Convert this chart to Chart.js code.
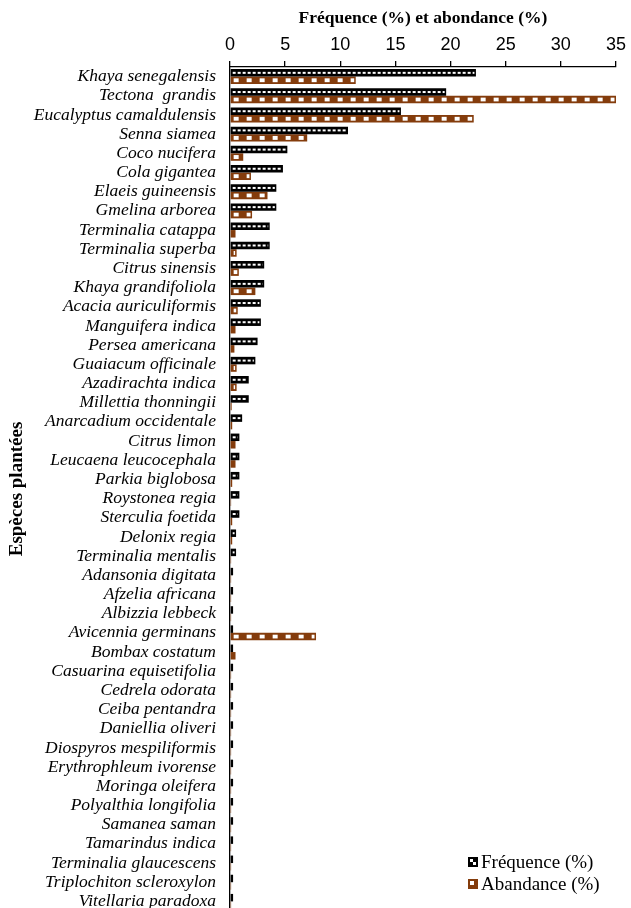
<!DOCTYPE html>
<html>
<head>
<meta charset="utf-8">
<script src="https://cdn.jsdelivr.net/npm/chart.js@4/dist/chart.umd.min.js"></script>
<style>
  html, body { margin: 0; padding: 0; background: #fff; overflow: hidden; }
  #wrap { position: relative; width: 631px; height: 911px; }
</style>
</head>
<body>
<div id="wrap"><canvas id="chart"></canvas></div>
<script>
// species surveyed, top to bottom
const species = [
  "Khaya senegalensis", "Tectona  grandis", "Eucalyptus camaldulensis", "Senna siamea",
  "Coco nucifera", "Cola gigantea", "Elaeis guineensis", "Gmelina arborea",
  "Terminalia catappa", "Terminalia superba", "Citrus sinensis", "Khaya grandifoliola",
  "Acacia auriculiformis", "Manguifera indica", "Persea americana", "Guaiacum officinale",
  "Azadirachta indica", "Millettia thonningii", "Anarcadium occidentale", "Citrus limon",
  "Leucaena leucocephala", "Parkia biglobosa", "Roystonea regia", "Sterculia foetida",
  "Delonix regia", "Terminalia mentalis", "Adansonia digitata", "Afzelia africana",
  "Albizzia lebbeck", "Avicennia germinans", "Bombax costatum", "Casuarina equisetifolia",
  "Cedrela odorata", "Ceiba pentandra", "Daniellia oliveri", "Diospyros mespiliformis",
  "Erythrophleum ivorense", "Moringa oleifera", "Polyalthia longifolia", "Samanea saman",
  "Tamarindus indica", "Terminalia glaucescens", "Triplochiton scleroxylon", "Vitellaria paradoxa"
];

// frequency (%)
const frequence = [
  22.3, 19.6, 15.5, 10.7,
  5.2, 4.8, 4.2, 4.2,
  3.6, 3.6, 3.1, 3.1,
  2.8, 2.8, 2.5, 2.3,
  1.7, 1.7, 1.1, 0.85,
  0.85, 0.85, 0.85, 0.85,
  0.55, 0.55, 0.28, 0.28,
  0.28, 0.28, 0.28, 0.28,
  0.28, 0.28, 0.28, 0.28,
  0.28, 0.28, 0.28, 0.28,
  0.28, 0.28, 0.28, 0.28
];

// abundance (%)
const abondance = [
  11.4, 35.0, 22.1, 7.0,
  1.2, 1.9, 3.4, 2.0,
  0.5, 0.6, 0.8, 2.3,
  0.7, 0.5, 0.4, 0.6,
  0.6, 0.15, 0.2, 0.5,
  0.5, 0.2, 0.1, 0.2,
  0.2, 0.1, 0.1, 0.1,
  0.1, 7.8, 0.5, 0.1,
  0.1, 0.1, 0.1, 0.1,
  0.1, 0.1, 0.1, 0.1,
  0.1, 0.1, 0.1, 0.1
];

const xTicks = [0, 5, 10, 15, 20, 25, 30, 35];

const BROWN = "#843C0C";
const serif = "'Liberation Serif', 'Times New Roman', serif";
const sans = "'Liberation Sans', Arial, sans-serif";

// white fill marks inside each bar (dash row / small squares)
const barMarks = {
  id: "barMarks",
  afterDatasetsDraw(chart) {
    const ctx = chart.ctx;
    ctx.save();
    ctx.fillStyle = "#fff";
    chart.data.datasets.forEach((ds, i) => {
      const meta = chart.getDatasetMeta(i);
      meta.data.forEach(bar => {
        const left = Math.min(bar.base, bar.x);
        const right = Math.max(bar.base, bar.x);
        const top = bar.y - bar.height / 2;
        ctx.save();
        ctx.beginPath();
        ctx.rect(left + 1.5, top + 1.5, right - left - 3, bar.height - 3);
        ctx.clip();
        if (i === 0) {
          const y = bar.y - 1;
          for (let x = left + 2; x < right - 1.5; x += 5) {
            ctx.fillRect(x, y, 3, 2);
          }
        } else {
          const y = bar.y - 2;
          for (let x = left + 3; x < right - 2; x += 13) {
            ctx.fillRect(x, y, 5, 4);
          }
        }
        ctx.restore();
      });
    });
    ctx.restore();
  }
};

// legend box inside the plot, lower right
const legendBox = {
  id: "legendBox",
  afterDraw(chart) {
    const ctx = chart.ctx;
    const items = [
      { label: "Fréquence (%)", color: "#000" },
      { label: "Abandance (%)", color: BROWN }
    ];
    ctx.save();
    ctx.font = "19px " + serif;
    ctx.textBaseline = "middle";
    items.forEach((it, k) => {
      const x = 468, y = 862 + k * 22;
      ctx.fillStyle = it.color;
      ctx.fillRect(x, y - 5, 10, 10);
      ctx.fillStyle = "#fff";
      if (k === 0) {
        ctx.fillRect(x + 2, y - 3, 3, 3);
        ctx.fillRect(x + 5, y, 3, 3);
      } else {
        ctx.fillRect(x + 2, y - 3, 4, 4);
      }
      ctx.fillStyle = "#000";
      ctx.fillText(it.label, x + 13, y + 1);
    });
    ctx.restore();
  }
};

new Chart(document.getElementById("chart"), {
  type: "bar",
  data: {
    labels: species,
    datasets: [
      {
        label: "Fréquence (%)",
        data: frequence,
        backgroundColor: "#000",
        borderColor: "#000",
        borderWidth: 0
      },
      {
        label: "Abandance (%)",
        data: abondance,
        backgroundColor: BROWN,
        borderColor: BROWN,
        borderWidth: 0
      }
    ]
  },
  options: {
    indexAxis: "y",
    responsive: true,
    maintainAspectRatio: false,
    animation: false,
    categoryPercentage: 0.78,
    barPercentage: 1.0,
    layout: { padding: { left: 0, right: 11, top: 0, bottom: 0 } },
    plugins: {
      legend: { display: false },
      tooltip: { enabled: false }
    },
    scales: {
      x: {
        position: "top",
        min: 0,
        max: 35,
        afterBuildTicks: scale => {
          scale.ticks = xTicks.map(v => ({ value: v }));
        },
        afterFit: scale => { scale.height = 67; },
        ticks: {
          color: "#000",
          font: { family: sans, size: 18 },
          padding: 5,
          maxRotation: 0
        },
        grid: {
          drawOnChartArea: false,
          drawTicks: true,
          tickLength: 6,
          color: "#000",
          lineWidth: 1.3
        },
        border: { display: true, color: "#000", width: 1.3 },
        title: {
          display: true,
          text: "Fréquence (%) et abondance (%)",
          color: "#000",
          font: { family: serif, size: 17.5, weight: "bold" },
          padding: { top: 8, bottom: 0 }
        }
      },
      y: {
        afterFit: scale => {
          scale.width = 230;
          // labels may run past the plot edges, no extra room needed
          scale.paddingTop = 0;
          scale.paddingBottom = 0;
        },
        ticks: {
          color: "#000",
          font: { family: serif, size: 17.5, style: "italic" },
          padding: 14,
          autoSkip: false
        },
        grid: { drawOnChartArea: false, drawTicks: false, color: "#000" },
        border: { display: true, color: "#000", width: 1.3 },
        title: {
          display: true,
          text: "Espèces plantées",
          color: "#000",
          font: { family: serif, size: 19, weight: "bold" },
          padding: { top: 6, bottom: 0 }
        }
      }
    }
  },
  plugins: [barMarks, legendBox]
});
</script>
</body>
</html>
